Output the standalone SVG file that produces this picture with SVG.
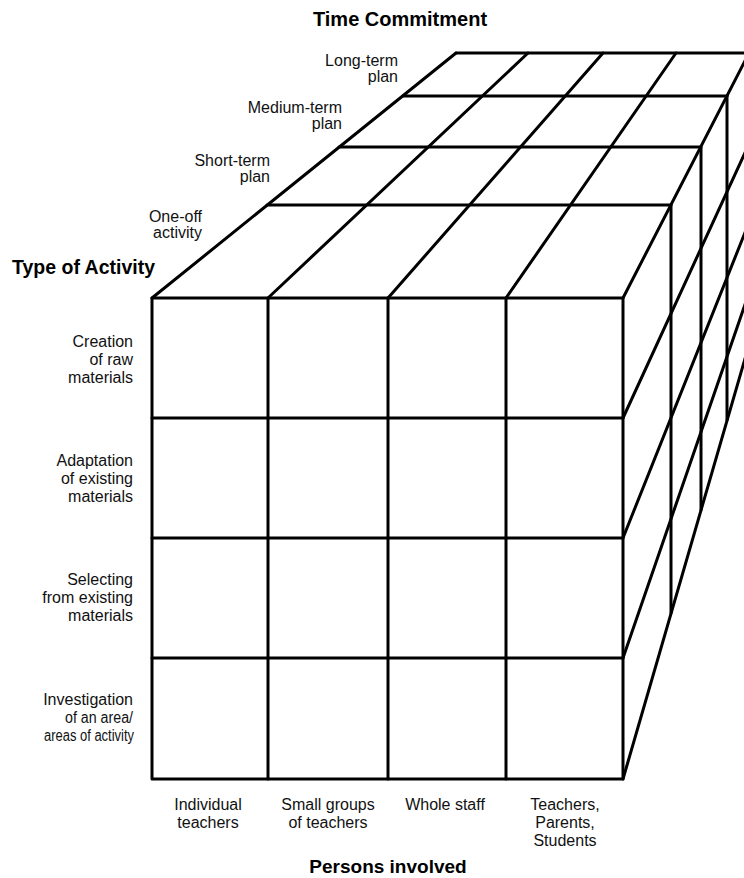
<svg xmlns="http://www.w3.org/2000/svg" width="744" height="878" viewBox="0 0 744 878">
  <style>
    .ln { stroke: #000; stroke-width: 3; fill: none; stroke-linecap: round; stroke-linejoin: round; }
    .lbl { font-family: "Liberation Sans", Arial, sans-serif; font-size: 16px; fill: #111; }
    .r { text-anchor: end; }
    .m { text-anchor: middle; }
    .ttl { font-family: "Liberation Sans", Arial, sans-serif; font-weight: bold; fill: #000; }
  </style>
  <rect x="0" y="0" width="744" height="878" fill="#fff"/>

  <g id="connectors">
    <g id="top-face" class="ln">
      <line x1="456" y1="53" x2="760" y2="53"/>
      <line x1="403" y1="96" x2="727" y2="96"/>
      <line x1="339" y1="147" x2="701" y2="147"/>
      <line x1="267" y1="205" x2="671" y2="205"/>
      <line x1="152" y1="298" x2="456" y2="53"/>
      <line x1="268" y1="298" x2="528" y2="53"/>
      <line x1="388" y1="298" x2="603" y2="53"/>
      <line x1="506" y1="298" x2="676" y2="53"/>
      <line x1="623" y1="298" x2="749" y2="53"/>
    </g>
    <g id="front-face" class="ln">
      <rect x="152" y="298" width="471" height="481"/>
      <line x1="268" y1="298" x2="268" y2="779"/>
      <line x1="388" y1="298" x2="388" y2="779"/>
      <line x1="506" y1="298" x2="506" y2="779"/>
      <line x1="152" y1="418" x2="623" y2="418"/>
      <line x1="152" y1="538" x2="623" y2="538"/>
      <line x1="152" y1="658" x2="623" y2="658"/>
    </g>
    <g id="right-face" class="ln">
      <line x1="671" y1="205" x2="671" y2="613"/>
      <line x1="701" y1="147" x2="701" y2="510"/>
      <line x1="727" y1="96" x2="727" y2="420"/>
      <line x1="623" y1="418" x2="760" y2="120"/>
      <line x1="623" y1="538" x2="760" y2="195"/>
      <line x1="623" y1="658" x2="760" y2="261"/>
      <line x1="623" y1="779" x2="760" y2="307"/>
    </g>
  </g>

  <g id="axis-time">
    <text class="ttl m" x="400" y="26" font-size="20">Time Commitment</text>
  </g>
  <g id="time-long" class="lbl r">
    <text x="398" y="66">Long-term</text>
    <text x="398" y="82">plan</text>
  </g>
  <g id="time-medium" class="lbl r">
    <text x="342" y="113">Medium-term</text>
    <text x="342" y="129">plan</text>
  </g>
  <g id="time-short" class="lbl r">
    <text x="270" y="166">Short-term</text>
    <text x="270" y="182">plan</text>
  </g>
  <g id="time-oneoff" class="lbl r">
    <text x="202" y="222">One-off</text>
    <text x="202" y="238">activity</text>
  </g>

  <g id="axis-activity">
    <text class="ttl" x="12" y="274" font-size="19.5">Type of Activity</text>
  </g>
  <g id="act-creation" class="lbl r">
    <text x="133" y="347">Creation</text>
    <text x="133" y="365">of raw</text>
    <text x="133" y="383">materials</text>
  </g>
  <g id="act-adaptation" class="lbl r">
    <text x="133" y="466">Adaptation</text>
    <text x="133" y="484">of existing</text>
    <text x="133" y="502">materials</text>
  </g>
  <g id="act-selecting" class="lbl r">
    <text x="133" y="585">Selecting</text>
    <text x="133" y="603">from existing</text>
    <text x="133" y="621">materials</text>
  </g>
  <g id="act-investigation" class="lbl r">
    <text x="133" y="705">Investigation</text>
    <text x="133" y="723" textLength="68" lengthAdjust="spacingAndGlyphs">of an area/</text>
    <text x="134" y="741" textLength="90" lengthAdjust="spacingAndGlyphs">areas of activity</text>
  </g>

  <g id="persons-individual" class="lbl m">
    <text x="208" y="810">Individual</text>
    <text x="208" y="828">teachers</text>
  </g>
  <g id="persons-small" class="lbl m">
    <text x="328" y="810">Small groups</text>
    <text x="328" y="828">of teachers</text>
  </g>
  <g id="persons-whole" class="lbl m">
    <text x="445" y="810">Whole staff</text>
  </g>
  <g id="persons-all" class="lbl m">
    <text x="565" y="810">Teachers,</text>
    <text x="565" y="828">Parents,</text>
    <text x="565" y="846">Students</text>
  </g>
  <g id="axis-persons">
    <text class="ttl m" x="388" y="873" font-size="19">Persons involved</text>
  </g>
</svg>
